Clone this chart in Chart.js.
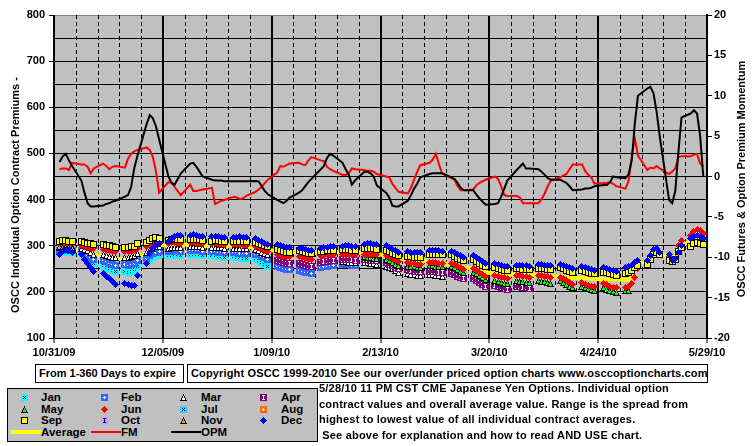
<!DOCTYPE html>
<html>
<head>
<meta charset="utf-8">
<script src="https://cdn.jsdelivr.net/npm/chart.js@4.4.0/dist/chart.umd.min.js"></script>
<style>
  body { margin: 0; background: #fff; }
  #wrap { position: relative; width: 755px; height: 446px; font-family: 'Liberation Sans', Arial, sans-serif; font-weight: bold; color: #000; }
  #chart { position: absolute; left: 0; top: 0; }
  .box { position: absolute; border: 1px solid #000; background: #fff; font-size: 11px; line-height: 17px; white-space: nowrap; box-sizing: border-box; padding-left: 3px; }
  #legend { position: absolute; left: 7px; top: 388px; width: 311px; height: 54px; background: #c0c0c0; border: 1px solid #000; box-sizing: border-box; }
  #legend .txt { position: absolute; font-size: 11.5px; line-height: 14px; white-space: nowrap; }
  #legend canvas { position: absolute; }
  #legend .ln { position: absolute; }
  #note { position: absolute; left: 319px; top: 381px; font-size: 11px; line-height: 15.7px; letter-spacing: 0.2px; white-space: pre; }
</style>
</head>
<body>
<div id="wrap">
  <canvas id="chart" width="755" height="446"></canvas>
  <div class="box" style="left:35px;top:364px;width:149px;height:19px;">From 1-360 Days to expire</div>
  <div class="box" style="left:187px;top:364px;width:521px;height:19px;letter-spacing:0.15px;">Copyright OSCC 1999-2010 See our over/under priced option charts www.osccoptioncharts.com</div>
  <div id="legend"></div>
  <div id="note">5/28/10 11 PM CST CME Japanese Yen Options. Individual option
contract values and overall average value. Range is the spread from
highest to lowest value of all individual contract averages.
 See above for explanation and how to read AND USE chart.</div>
</div>
<script>
// date labels on the x axis, one every 35 days (5 weeks)
const xLabels = ['10/31/09', '12/05/09', '1/09/10', '2/13/10', '3/20/10', '4/24/10', '5/29/10'];

// one row per week (Mon..Fri), first row is the week of 10/31/09
const sepValues = [
  [309,311,312,310,310],[309,307,305,304,303],[302,301,300,298,297],[297,297,298,299,304],
  [308,312,316,318,316],[312,314,315,314,313],[313,314,314,313,312],[310,311,311,310,310],
  [309,309,310,310,309],[307,305,303,300,298],[291,289,287,286,286],[289,287,285,284,284],
  [287,288,289,290,290],[291,291,291,290,290],[294,294,294,293,292],[290,287,284,281,278],
  [277,276,275,275,275],[281,282,282,281,280],[280,277,273,270,267],[270,266,262,258,254],
  [253,251,249,247,247],[250,250,249,249,248],[251,250,250,249,249],[252,250,247,244,242],
  [246,244,242,240,239],[243,241,239,237,236],[240,241,246,252,258],[260,270,281,285,280],
  [269,265,270,288,296],[298,304,306,305,303]
];
const decValues = [
  [282,287,289,289,285],[281,271,262,252,245],[240,234,228,222,217],[219,216,213,213,235],
  [262,284,295,300,305],[310,316,320,323,322],[322,324,323,321,320],[320,321,320,318,318],
  [318,318,319,318,318],[316,312,309,305,302],[302,300,298,297,297],[295,293,291,290,290],
  [295,296,297,298,298],[299,300,300,299,299],[303,304,304,303,302],[300,296,292,289,286],
  [288,286,285,285,285],[289,290,290,289,288],[288,285,281,278,275],[278,274,270,266,262],
  [262,260,258,256,256],[258,258,257,257,256],[259,259,258,258,257],[260,258,255,252,250],
  [254,252,250,248,247],[252,250,248,246,245],[252,254,258,264,269],[267,278,291,295,286],
  [280,269,273,286,300],[316,321,323,320,316]
];
const junValues = [
  [302,303,304,303,302],[301,299,297,295,294],[292,290,289,288,287],[288,287,288,290,294],
  [298,302,306,308,308],[305,306,306,305,305],[306,306,305,305,304],[304,304,303,303,302],
  [302,302,302,301,301],[298,296,293,290,288],[280,278,277,276,276],[276,274,272,271,270],
  [278,279,280,280,280],[281,281,280,280,280],[282,282,281,280,280],[278,275,272,268,265],
  [264,262,261,260,260],[264,264,263,262,261],[262,259,255,252,249],[250,246,242,238,234],
  [236,234,232,231,230],[236,235,234,233,232],[236,235,234,233,232],[232,228,224,220,216],
  [220,217,214,212,211],[218,215,212,210,209],[210,212,218,232,250],[265,275,288,293,284],
  [276,267,272,300,311],[322,330,336,334,326]
];
const marValues = [ // weeks 0-17
  [296,297,298,297,296],[295,292,289,285,282],[282,279,277,275,274],[274,274,276,278,283],
  [286,290,295,298,298],[295,296,297,297,296],[298,299,299,298,297],[297,297,296,296,295],
  [295,295,295,294,294],[291,289,286,283,280],[270,268,266,265,264],[264,262,260,258,257],
  [266,267,268,268,268],[265,265,264,264,263],[264,263,262,261,260],[256,253,250,246,243],
  [240,238,237,236,236],[238,237,236,235,234]
];
const febValues = [ // weeks 0-13
  [290,291,292,291,290],[289,284,279,274,270],[268,265,262,260,258],[259,258,260,262,267],
  [272,278,283,286,287],[287,288,289,289,288],[290,290,290,289,288],[287,287,286,286,285],
  [285,285,284,284,283],[282,280,277,274,271],[254,252,250,249,249],[247,245,243,241,240],
  [252,254,256,257,258],[260,260,259,258,257]
];
const janValues = [ // weeks 0-9
  [285,286,287,286,285],[284,278,272,266,262],[257,253,250,247,245],[244,243,245,248,254],
  [265,270,275,278,280],[278,279,280,280,279],[282,282,281,280,279],[279,278,277,276,275],
  [276,275,274,273,272],[272,268,264,260,256]
];
const aprStart = 10;
const aprValues = [
  [268,266,264,262,262],[262,260,258,256,255],[264,265,266,267,267],[271,271,270,270,269],
  [270,270,269,268,267],[263,260,257,253,250],[248,246,245,244,244],[245,245,244,243,242],
  [240,237,234,231,228],[228,224,220,216,212],[214,212,210,208,206],[212,211,210,209,208]
];
const mayStart = 14;
const mayValues = [
  [276,275,274,273,272],[270,267,264,260,257],[256,255,254,253,253],[257,257,256,255,254],
  [255,252,248,245,242],[243,239,235,231,227],[225,223,221,219,218],[224,223,222,221,220],
  [224,223,222,220,219],[224,220,216,212,209],[212,209,207,205,204],[209,206,203,200,199],
  [202,204,null,null,null]
];
const novValues = [[298,297,296,296,295]];
const julValues = [];
const augValues = [];
const octValues = [];

const averageValues = [
  [292,293,294,294,293],[291,288,285,282,280],[278,276,275,273,272],[271,270,270,271,276],
  [284,290,296,300,301],[301,302,302,302,302],[302,302,301,301,300],[300,300,300,299,299],
  [299,299,298,298,297],[296,295,293,292,290],[289,288,287,287,287],[286,285,284,284,284],
  [285,285,286,286,286],[286,286,285,285,285],[284,284,283,283,282],[279,277,275,273,271],
  [270,269,268,268,267],[266,265,264,263,262],[260,258,256,254,252],[250,248,246,244,242],
  [240,239,238,238,237],[237,237,236,236,236],[236,235,235,234,234],[234,233,232,231,230],
  [230,230,229,229,228],[228,228,227,227,227],[226,226,242,255,262],[266,274,281,285,283],
  [276,272,280,294,300],[310,316,318,316,312]
];
// right axis series
const fmValues = [
  [0.9,1.0,1.0,0.8,1.7],[1.5,1.5,1.2,0.4,1.0],[1.6,1.3,0.9,1.2,1.3],[1.1,2.2,2.8,3.1,3.3],
  [3.6,3.3,2.4,0.6,-2.0],[-0.7,-0.8,-1.3,-1.8,-2.3],[-1.0,-1.8,-1.8,-1.7,-1.6],[-1.4,-3.4,-3.2,-3.0,-2.9],
  [-2.5,-2.6,-2.8,-2.7,-2.4],[-1.9,-1.6,-1.3,-0.8,-0.4],[0.5,1.3,1.2,1.4,1.6],[1.7,1.5,1.4,2.0,2.4],
  [2.0,1.9,1.2,0.9,0.7],[0.2,0.2,0.4,1.0,0.9],[0.8,0.7,0.7,0.6,0.3],[0.0,-0.1,-0.9,-1.4,-1.9],
  [-2.1,-1.4,-0.4,0.6,1.4],[1.7,2.1,2.8,1.5,0.4],[-0.2,-0.4,-1.2,-1.7,-1.7],[-1.6,-1.1,-0.8,-0.6,-0.4],
  [0.0,-0.3,-1.2,-2.3,-2.4],[-2.4,-2.6,-3.3,-3.3,-3.3],[-3.3,-2.8,-2.1,-1.2,-0.5],[-0.1,0.1,0.3,0.9,1.5],
  [1.5,0.7,0.2,-0.1,-0.9],[-0.8,-0.8,-0.7,-0.9,-1.2],[-1.5,-0.5,2.5,4.7,2.6],[0.8,1.1,1.0,1.3,1.0],
  [0.3,0.6,1.0,2.4,2.5],[2.5,2.7,2.8,1.6,1.2]
];
const opmValues = [
  [1.8,2.5,2.8,2.0,1.3],[-0.5,-2.0,-3.3,-3.7,-3.7],[-3.6,-3.4,-3.3,-3.1,-3.0],[-2.5,-2.3,-1.3,1.0,2.5],
  [6.5,7.6,7.2,6.2,4.6],[0.0,-0.8,-1.0,-0.3,0.4],[1.6,1.7,1.2,0.6,0.0],[-0.4,-0.5,-0.5,-0.5,-0.6],
  [-0.6,-0.6,-0.6,-0.6,-0.6],[-0.55,-0.6,-1.2,-1.8,-2.2],[-2.9,-3.1,-3.3,-3.0,-2.6],[-2.0,-1.7,-1.2,-0.7,-0.3],
  [0.9,1.3,2.3,2.8,2.6],[1.7,0.9,0.2,-1.0,-0.5],[0.6,0.6,0.4,0.0,-1.1],[-2.0,-2.6,-3.6,-3.7,-3.7],
  [-3.0,-2.3,-1.5,-0.9,-0.1],[0.3,0.4,0.4,0.4,0.4],[-0.1,-0.3,-0.8,-1.4,-1.7],[-1.7,-2.2,-2.7,-3.1,-3.5],
  [-3.4,-3.3,-2.5,-1.5,-0.5],[0.8,1.2,1.6,1.0,1.0],[0.9,0.6,0.2,-0.2,-0.4],[-0.4,-0.6,-0.8,-1.2,-1.7],
  [-1.6,-1.5,-1.5,-1.4,-1.2],[-1.05,-1.05,-0.7,0.0,-0.1],[-0.2,0.3,2.0,6.6,10.0],[10.9,11.1,10.3,8.0,5.0],
  [-2.9,-3.3,-1.8,3.0,7.3],[7.8,8.2,7.8,5.0,0.0]
];

const leftTitle = 'OSCC Individual Option Contract Premiums -';
const rightTitle = 'OSCC Futures & Option Premium Momentum';
const FONT = "'Liberation Sans', Arial, sans-serif";

// day number of each trading day: week * 7 + offset + weekday
function toPoints(weeks, startWeek) {
  const pts = [];
  weeks.forEach((row, w) => row.forEach((v, j) => {
    if (v !== null) pts.push({ x: (startWeek + w) * 7 + 1.8 + j, y: v });
  }));
  return pts;
}

// small pixel markers, like the old spreadsheet ones
function makeCanvas(w, h, draw) {
  const c = document.createElement('canvas');
  c.width = w; c.height = h;
  draw(c.getContext('2d'));
  return c;
}
const MARKS = {
  x: [[2,2],[4,2],[3,3],[2,4],[4,4]],
  plus: [[3,2],[2,3],[3,3],[4,3],[3,4]],
  bar: [[2,1],[3,1],[4,1],[3,2],[3,3],[3,4],[2,5],[3,5],[4,5]]
};
function squareIcon(fill, mark, markColor, border) {
  return makeCanvas(7, 7, g => {
    g.fillStyle = border ? '#000' : fill;
    g.fillRect(0, 0, 7, 7);
    if (border) { g.fillStyle = fill; g.fillRect(1, 1, 5, 5); }
    if (mark) {
      g.fillStyle = markColor;
      MARKS[mark].forEach(([px, py]) => g.fillRect(px, py, 1, 1));
    }
  });
}
function triangleIcon(fill) {
  return makeCanvas(7, 7, g => {
    for (let r = 0; r < 7; r++) {
      const h = Math.floor(r / 2);
      g.fillStyle = '#000';
      g.fillRect(3 - h, r, 2 * h + 1, 1);
      if (r > 1 && r < 6 && h > 0) { g.fillStyle = fill; g.fillRect(4 - h, r, 2 * h - 1, 1); }
    }
  });
}
function diamondIcon(fill) {
  return makeCanvas(7, 7, g => {
    g.fillStyle = fill;
    for (let r = 0; r < 7; r++) {
      const h = 3 - Math.abs(r - 3);
      g.fillRect(3 - h, r, 2 * h + 1, 1);
    }
  });
}
const iconMakers = {
  Jan: () => squareIcon('#00ffff', 'x', '#000080', false),
  Feb: () => squareIcon('#3366ff', 'plus', '#ffffff', false),
  Mar: () => triangleIcon('#ffffff'),
  Apr: () => squareIcon('#800080', 'bar', '#ffffff', false),
  May: () => triangleIcon('#00ff00'),
  Jun: () => diamondIcon('#ff0000'),
  Jul: () => squareIcon('#33ccff', 'x', '#000080', false),
  Aug: () => squareIcon('#ff6600', 'plus', '#ffffff', false),
  Sep: () => squareIcon('#ffff00', null, null, true),
  Oct: () => squareIcon('#cc99ff', 'bar', '#000080', false),
  Nov: () => triangleIcon('#ff9900'),
  Dec: () => diamondIcon('#0000ff')
};

function markerSet(label, weeks, start, order) {
  return {
    label, data: toPoints(weeks, start), showLine: false, yAxisID: 'y',
    pointStyle: iconMakers[label](), pointRadius: 3, pointHoverRadius: 3, order
  };
}
function lineSet(label, weeks, color, width, axis, order) {
  return {
    label, data: toPoints(weeks, 0), borderColor: color, borderWidth: width,
    pointRadius: 0, tension: 0, yAxisID: axis, order
  };
}

const datasets = [
  lineSet('Average', averageValues, '#ffff00', 4, 'y', 20),
  markerSet('Jan', janValues, 0, 13),
  markerSet('Feb', febValues, 0, 12),
  markerSet('Mar', marValues, 0, 11),
  markerSet('Apr', aprValues, aprStart, 10),
  markerSet('May', mayValues, mayStart, 9),
  markerSet('Jun', junValues, 0, 8),
  markerSet('Jul', julValues, 0, 7),
  markerSet('Aug', augValues, 0, 6),
  markerSet('Sep', sepValues, 0, 5),
  markerSet('Oct', octValues, 0, 4),
  markerSet('Nov', novValues, 0, 3),
  markerSet('Dec', decValues, 0, 2),
  lineSet('FM', fmValues, '#ff0000', 2, 'y2', 1),
  lineSet('OPM', opmValues, '#000000', 2, 'y2', 0)
];

// gray plot area, weekly dashed lines, rotated axis titles
const plotDecor = {
  id: 'plotDecor',
  beforeDraw(chart) {
    const { ctx, chartArea: a } = chart;
    ctx.save();
    ctx.fillStyle = '#c0c0c0';
    ctx.fillRect(a.left, a.top, a.right - a.left, a.bottom - a.top);
    ctx.restore();
  },
  beforeDatasetsDraw(chart) {
    const { ctx, chartArea: a, scales: { x } } = chart;
    ctx.save();
    ctx.strokeStyle = '#000';
    ctx.lineWidth = 1;
    ctx.setLineDash([4, 3]);
    for (let d = 7; d < 210; d += 7) {
      if (d % 35 === 0) continue;
      const px = Math.round(x.getPixelForValue(d)) + 0.5;
      ctx.beginPath();
      ctx.moveTo(px, a.top);
      ctx.lineTo(px, a.bottom);
      ctx.stroke();
    }
    ctx.restore();
    ctx.imageSmoothingEnabled = false;
  },
  afterDraw(chart) {
    const ctx = chart.ctx;
    ctx.save();
    ctx.font = 'bold 11px ' + FONT;
    ctx.fillStyle = '#000';
    ctx.textAlign = 'center';
    ctx.textBaseline = 'middle';
    ctx.translate(16, 195);
    ctx.rotate(-Math.PI / 2);
    ctx.fillText(leftTitle, 0, 0);
    ctx.restore();
    ctx.save();
    ctx.font = 'bold 11px ' + FONT;
    ctx.fillStyle = '#000';
    ctx.textAlign = 'center';
    ctx.textBaseline = 'middle';
    ctx.translate(742, 179);
    ctx.rotate(-Math.PI / 2);
    ctx.fillText(rightTitle, 0, 0);
    ctx.restore();
  }
};

const tickFont = { family: FONT, size: 11, weight: 'bold' };

new Chart(document.getElementById('chart'), {
  type: 'line',
  data: { datasets },
  options: {
    responsive: false,
    animation: false,
    devicePixelRatio: 1,
    events: [],
    layout: { padding: { top: 15, left: 0, right: 0, bottom: 0 } },
    plugins: { legend: { display: false }, tooltip: { enabled: false } },
    scales: {
      x: {
        type: 'linear', min: 0, max: 210,
        afterFit: s => { s.height = 108; },
        ticks: {
          stepSize: 35, autoSkip: false, maxRotation: 0, padding: 3,
          font: tickFont, color: '#000',
          callback: (v, i) => xLabels[i]
        },
        grid: { color: '#000', lineWidth: 2, tickLength: 5, tickWidth: 1 },
        border: { color: '#000', width: 1 }
      },
      y: {
        position: 'left', min: 100, max: 800,
        afterFit: s => { s.width = 54; },
        ticks: {
          stepSize: 50, autoSkip: false, padding: 4, font: tickFont, color: '#000',
          callback: v => (v % 100 === 0 ? v : '')
        },
        grid: {
          color: c => (c.tick && c.tick.value === 800 ? '#808080' : '#000'),
          tickLength: 5,
          tickColor: c => (c.tick && c.tick.value % 100 === 0 ? '#000' : 'rgba(0,0,0,0)')
        },
        border: { color: '#000', width: 1 }
      },
      y2: {
        position: 'right', min: -20, max: 20,
        afterFit: s => { s.width = 48; },
        ticks: { stepSize: 5, autoSkip: false, padding: 2, font: tickFont, color: '#000' },
        grid: { drawOnChartArea: false, tickLength: 5, color: '#000' },
        border: { color: '#000', width: 2 }
      }
    }
  },
  plugins: [plotDecor]
});

// legend grid: 4 columns of month markers, then the three lines
const legendRows = [
  ['Jan', 'Feb', 'Mar', 'Apr'],
  ['May', 'Jun', 'Jul', 'Aug'],
  ['Sep', 'Oct', 'Nov', 'Dec']
];
const legendLines = [['Average', '#ffff00', 4], ['FM', '#ff0000', 2], ['OPM', '#000000', 2]];
const legendEl = document.getElementById('legend');
const colIcon = [16, 96, 175, 255];
const colText = [33, 113, 193, 273];
const rowY = [8, 20, 31, 43];
function addText(txt, x, y) {
  const t = document.createElement('div');
  t.className = 'txt';
  t.textContent = txt;
  t.style.left = x + 'px';
  t.style.top = (y - 7) + 'px';
  legendEl.appendChild(t);
}
legendRows.forEach((row, r) => row.forEach((name, c) => {
  const ic = iconMakers[name]();
  ic.style.left = (colIcon[c] - 3) + 'px';
  ic.style.top = (rowY[r] - 3) + 'px';
  legendEl.appendChild(ic);
  addText(name, colText[c], rowY[r]);
}));
legendLines.forEach(([name, color, w], c) => {
  const ln = document.createElement('div');
  ln.className = 'ln';
  ln.style.left = (colText[c] - 30) + 'px';
  ln.style.width = '30px';
  ln.style.top = (rowY[3] - Math.floor(w / 2)) + 'px';
  ln.style.height = w + 'px';
  ln.style.background = color;
  legendEl.appendChild(ln);
  addText(name, colText[c], rowY[3]);
});
</script>
</body>
</html>
